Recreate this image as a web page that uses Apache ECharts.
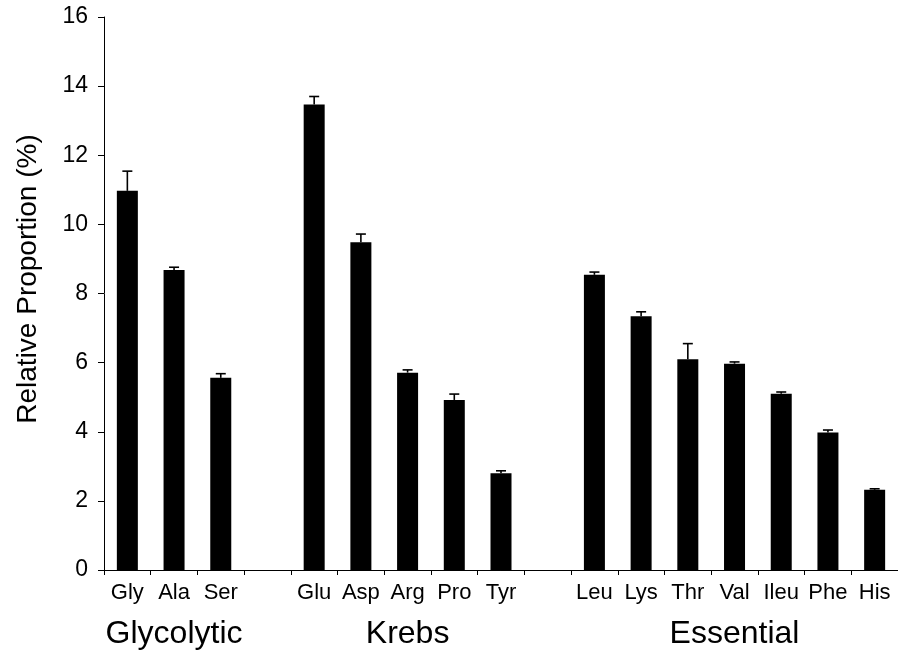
<!DOCTYPE html>
<html>
<head>
<meta charset="utf-8">
<script src="https://cdn.jsdelivr.net/npm/echarts@6/dist/echarts.min.js"></script>
<style>
html,body{margin:0;padding:0;background:#fff;}
#chart{width:898px;height:650px;}
</style>
</head>
<body>
<div id="chart"></div>
<script>
// Data
var categories = ['Gly','Ala','Ser','','Glu','Asp','Arg','Pro','Tyr','','Leu','Lys','Thr','Val','Ileu','Phe','His'];
var values     = [10.97, 8.68, 5.56, null, 13.47, 9.48, 5.71, 4.92, 2.80, null, 8.54, 7.34, 6.10, 5.97, 5.10, 3.98, 2.32];
var errors     = [0.57, 0.08, 0.12, null, 0.23, 0.24, 0.08, 0.17, 0.07, null, 0.08, 0.13, 0.45, 0.05, 0.05, 0.07, 0.03];
var groupNames = ['Glycolytic','Krebs','Essential'];
var groupLabelAt = ['Ala','Arg','Val']; // category under which each group name sits
var yTicks = [0,2,4,6,8,10,12,14,16];

var groupAxisData = categories.map(function(c){
  var k = groupLabelAt.indexOf(c);
  return k >= 0 ? groupNames[k] : '';
});

var errData = [];
for (var i = 0; i < categories.length; i++) {
  if (values[i] != null) errData.push([i, values[i], values[i] + errors[i]]);
}

var chart = echarts.init(document.getElementById('chart'), null, {renderer:'canvas'});
var font = 'Liberation Sans, Arial, Helvetica, sans-serif';
chart.setOption({
  animation: false,
  backgroundColor: '#fff',
  grid: {left: 104, width: 797, top: 17, bottom: 80, containLabel: false},
  xAxis: [{
    type: 'category',
    data: categories,
    position: 'bottom',
    boundaryGap: true,
    axisLine: {lineStyle: {color: '#000', width: 1}},
    axisTick: {show: true, length: 5, lineStyle: {color: '#000'}, interval: 0},
    axisLabel: {interval: 0, margin: 12, fontSize: 22, color: '#000', fontFamily: font}
  }, {
    type: 'category',
    data: groupAxisData,
    position: 'bottom',
    offset: 48,
    boundaryGap: true,
    axisLine: {show: false},
    axisTick: {show: false},
    axisLabel: {interval: 0, margin: 0, fontSize: 32, color: '#000', fontFamily: font}
  }],
  yAxis: {
    type: 'value',
    min: yTicks[0],
    max: yTicks[yTicks.length-1],
    interval: 2,
    name: 'Relative Proportion (%)',
    nameLocation: 'middle',
    nameGap: 62,
    nameTextStyle: {fontSize: 28, color: '#000', fontFamily: font, padding: [0, 0, 0, 29]},
    axisLine: {show: true, lineStyle: {color: '#000', width: 1}},
    axisTick: {show: true, length: 6, lineStyle: {color: '#000'}},
    splitLine: {show: false},
    axisLabel: {fontSize: 23, color: '#000', margin: 16, fontFamily: font}
  },
  series: [{
    type: 'bar',
    data: values,
    barWidth: 21,
    itemStyle: {color: '#000'},
    xAxisIndex: 0
  }, {
    type: 'custom',
    xAxisIndex: 0,
    data: errData,
    z: 3,
    renderItem: function(params, api) {
      var x = api.value(0);
      var top = api.coord([x, api.value(1)]);
      var hi = api.coord([x, api.value(2)]);
      var cap = 5;
      return {
        type: 'group',
        children: [{
          type: 'line',
          shape: {x1: top[0], y1: top[1], x2: hi[0], y2: hi[1]},
          style: {stroke: '#000', lineWidth: 1.6}
        }, {
          type: 'line',
          shape: {x1: hi[0]-cap, y1: hi[1], x2: hi[0]+cap, y2: hi[1]},
          style: {stroke: '#000', lineWidth: 1.6}
        }]
      };
    }
  }]
});
</script>
</body>
</html>
